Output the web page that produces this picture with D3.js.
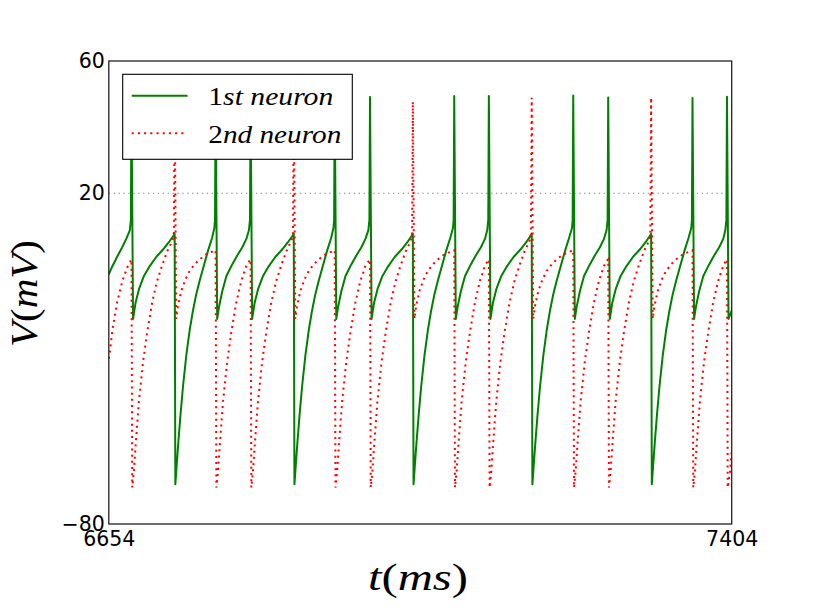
<!DOCTYPE html>
<html>
<head>
<meta charset="utf-8">
<script src="https://cdn.jsdelivr.net/npm/d3@7"></script>
<style>
  body { margin: 0; background: #ffffff; }
  svg { display: block; }
</style>
</head>
<body>
<div id="chart"></div>
<script>
// time axis (ms) and voltage axis (mV)
const xDomain = [6654, 7404];
const yDomain = [-80, 60];
const xTicks = [6654, 7404];
const yTicks = [60, 20, -80];
const refLevel = 20;

// [t (ms), V (mV)]
const neuron1 = [
    [6654,-4.5],[6658,-2.2],[6664,0.8],[6670,3.6],[6675,6.2],[6679.3,8.8],[6680.6,12],[6681.3,49],[6683.2,-18],
    [6686.3,-13],[6690.3,-9],[6696.3,-5],[6703.3,-2],[6711.3,0.8],[6719.3,3],[6726.3,5.2],[6732.3,7.3],[6733.3,7.8],[6734.1,-68],
    [6735.8,-62],[6737.8,-55],[6740.3,-47],[6743.3,-38.5],[6747.3,-29],[6751.3,-21.5],[6755.3,-15.5],[6759.3,-10.5],[6763.3,-6.5],[6768.3,-2],[6773.3,2.5],[6778.3,6.5],[6781.1,9.5],[6781.9,12],[6782.6,49],[6784.5,-18],
    [6786.6,-14.5],[6790.6,-9.6],[6795.6,-5],[6802.6,-1.5],[6808.6,1.2],[6814.6,3.6],[6819.6,6.2],[6822.7,8.8],[6824.0,12],[6824.7,49],[6826.6,-18],
    [6829.7,-13],[6833.7,-9],[6839.7,-5],[6846.7,-2],[6854.7,0.8],[6862.7,3],[6869.7,5.2],[6875.7,7.3],[6876.7,7.8],[6877.5,-68],
    [6879.2,-62],[6881.2,-55],[6883.7,-47],[6886.7,-38.5],[6890.7,-29],[6894.7,-21.5],[6898.7,-15.5],[6902.7,-10.5],[6906.7,-6.5],[6911.7,-2],[6916.7,2.5],[6921.7,6.5],[6924.5,9.5],[6925.3,12],[6926.0,49],[6927.9,-18],
    [6930,-14.5],[6934,-9.6],[6939,-5],[6946,-1.5],[6952,1.2],[6958,3.6],[6963,6.2],[6966.5,8.8],[6967.8,12],[6968.5,49.1],[6970.4,-18],
    [6973.5,-13],[6977.5,-9],[6983.5,-5],[6990.5,-2],[6998.5,0.8],[7006.5,3],[7013.5,5.2],[7019.1,7.3],[7020.1,7.8],[7020.9,-68],
    [7022.6,-62],[7024.6,-55],[7027.1,-47],[7030.1,-38.5],[7034.1,-29],[7038.1,-21.5],[7042.1,-15.5],[7046.1,-10.5],[7050.1,-6.5],[7055.1,-2],[7060.1,2.5],[7065.1,6.5],[7068.4,9.5],[7069.2,12],[7069.9,49.4],[7071.8,-18],
    [7073.9,-14.5],[7077.9,-9.6],[7082.9,-5],[7089.9,-1.5],[7095.9,1.2],[7101.9,3.6],[7106.9,6.2],[7109.6,8.8],[7110.9,12],[7111.6,49.4],[7113.5,-18],
    [7116.6,-13],[7120.6,-9],[7126.6,-5],[7133.6,-2],[7141.6,0.8],[7149.6,3],[7156.6,5.2],[7162.2,7.3],[7163.2,7.8],[7164,-68],
    [7165.7,-62],[7167.7,-55],[7170.2,-47],[7173.2,-38.5],[7177.2,-29],[7181.2,-21.5],[7185.2,-15.5],[7189.2,-10.5],[7193.2,-6.5],[7198.2,-2],[7203.2,2.5],[7208.2,6.5],[7211.7,9.5],[7212.5,12],[7213.2,49.6],[7215.1,-18],
    [7217.2,-14.5],[7221.2,-9.6],[7226.2,-5],[7233.2,-1.5],[7239.2,1.2],[7245.2,3.6],[7250.2,6.2],[7253.3,8.8],[7254.6,12],[7255.3,49],[7257.2,-18],
    [7260.3,-13],[7264.3,-9],[7270.3,-5],[7277.3,-2],[7285.3,0.8],[7293.3,3],[7300.3,5.2],[7306,7.3],[7307,7.8],[7307.8,-68],
    [7309.5,-62],[7311.5,-55],[7314,-47],[7317,-38.5],[7321,-29],[7325,-21.5],[7329,-15.5],[7333,-10.5],[7337,-6.5],[7342,-2],[7347,2.5],[7352,6.5],[7355.3,9.5],[7356.1,12],[7356.8,48.8],[7358.7,-18],
    [7360.8,-14.5],[7364.8,-9.6],[7369.8,-5],[7376.8,-1.5],[7382.8,1.2],[7388.8,3.6],[7393.8,6.2],[7396.3,8.8],[7397.6,12],[7398.3,49.2],[7400.2,-18],
    [7402.5,-16.5],[7404,-15.5]
];

const neuron2 = [
    [6654,-30],[6655.5,-27.5],[6658.5,-21],[6664.5,-12.4],[6670.5,-6.4],[6676,-2.5],[6680.3,-0.5],[6681.3,0],[6682.2,-69],
    [6684.2,-64],[6686.2,-56.5],[6690.2,-43],[6695.2,-31],[6700.2,-22],[6706.2,-13],[6712.2,-6.5],[6718.2,-1.8],[6724.2,2.4],[6729.2,5],[6732.3,6.8],[6733.3,48.5],[6735.1,-18],
    [6737.3,-14],[6741.3,-9.5],[6746.3,-6],[6751.3,-3.5],[6757.3,-1.5],[6763.3,0],[6771.3,1.5],[6781.6,2.7],[6782.6,2.8],[6783.5,-69],
    [6785.5,-64],[6787.5,-56.5],[6791.5,-43],[6796.5,-31],[6801.5,-22],[6807.5,-13],[6813.5,-6.5],[6819.5,-2],[6823.7,-0.3],[6824.7,0],[6825.6,-69],
    [6827.6,-64],[6829.6,-56.5],[6833.6,-43],[6838.6,-31],[6843.6,-22],[6849.6,-13],[6855.6,-6.5],[6861.6,-1.8],[6867.6,2.4],[6872.6,5],[6875.7,6.8],[6876.7,48.5],[6878.5,-18],
    [6880.7,-14],[6884.7,-9.5],[6889.7,-6],[6894.7,-3.5],[6900.7,-1.5],[6906.7,0],[6914.7,1.5],[6925,2.7],[6926,2.8],[6926.9,-69],
    [6928.9,-64],[6930.9,-56.5],[6934.9,-43],[6939.9,-31],[6944.9,-22],[6950.9,-13],[6956.9,-6.5],[6962.9,-2],[6967.5,-0.3],[6968.5,0],[6969.4,-69],
    [6971.4,-64],[6973.4,-56.5],[6977.4,-43],[6982.4,-31],[6987.4,-22],[6993.4,-13],[6999.4,-6.5],[7005.4,-1.8],[7011.4,2.4],[7016.4,5],[7019.1,6.8],[7020.1,47.7],[7021.9,-18],
    [7024.1,-14],[7028.1,-9.5],[7033.1,-6],[7038.1,-3.5],[7044.1,-1.5],[7050.1,0],[7058.1,1.5],[7068.9,2.7],[7069.9,2.8],[7070.8,-69],
    [7072.8,-64],[7074.8,-56.5],[7078.8,-43],[7083.8,-31],[7088.8,-22],[7094.8,-13],[7100.8,-6.5],[7106.8,-2],[7110.6,-0.3],[7111.6,0],[7112.5,-69],
    [7114.5,-64],[7116.5,-56.5],[7120.5,-43],[7125.5,-31],[7130.5,-22],[7136.5,-13],[7142.5,-6.5],[7148.5,-1.8],[7154.5,2.4],[7159.5,5],[7162.2,6.8],[7163.2,48.9],[7165,-18],
    [7167.2,-14],[7171.2,-9.5],[7176.2,-6],[7181.2,-3.5],[7187.2,-1.5],[7193.2,0],[7201.2,1.5],[7212.2,2.7],[7213.2,2.8],[7214.1,-69],
    [7216.1,-64],[7218.1,-56.5],[7222.1,-43],[7227.1,-31],[7232.1,-22],[7238.1,-13],[7244.1,-6.5],[7250.1,-2],[7254.3,-0.3],[7255.3,0],[7256.2,-69],
    [7258.2,-64],[7260.2,-56.5],[7264.2,-43],[7269.2,-31],[7274.2,-22],[7280.2,-13],[7286.2,-6.5],[7292.2,-1.8],[7298.2,2.4],[7303.2,5],[7306,6.8],[7307,48.9],[7308.8,-18],
    [7311,-14],[7315,-9.5],[7320,-6],[7325,-3.5],[7331,-1.5],[7337,0],[7345,1.5],[7355.8,2.7],[7356.8,2.8],[7357.7,-69],
    [7359.7,-64],[7361.7,-56.5],[7365.7,-43],[7370.7,-31],[7375.7,-22],[7381.7,-13],[7387.7,-6.5],[7393.7,-2],[7397.3,-0.3],[7398.3,0],[7399.2,-69],
    [7402.1,-64],[7404,-58]
];

const seriesNames = ["1st neuron", "2nd neuron"];

const width = 813;
const height = 613;
const plot = { left: 108.8, right: 731.7, top: 61, bottom: 524 };

const svg = d3.select("#chart")
    .append("svg")
    .attr("width", width)
    .attr("height", height);

svg.append("rect")
    .attr("width", width)
    .attr("height", height)
    .attr("fill", "#ffffff");

const x = d3.scaleLinear().domain(xDomain).range([plot.left, plot.right]);
const y = d3.scaleLinear().domain(yDomain).range([plot.bottom, plot.top]);

svg.append("clipPath")
    .attr("id", "plot-clip")
    .append("rect")
    .attr("x", plot.left)
    .attr("y", plot.top)
    .attr("width", plot.right - plot.left)
    .attr("height", plot.bottom - plot.top);

const g = svg.append("g").attr("clip-path", "url(#plot-clip)");

// reference line at 20 mV
g.append("line")
    .attr("x1", x(xDomain[0]))
    .attr("x2", x(xDomain[1]))
    .attr("y1", y(refLevel))
    .attr("y2", y(refLevel))
    .attr("stroke", "#808080")
    .attr("stroke-width", 1.1)
    .attr("stroke-dasharray", "1.3,3.6");

const line = d3.line()
    .x(d => x(d[0]))
    .y(d => y(d[1]));

g.append("path")
    .datum(neuron1)
    .attr("d", line)
    .attr("fill", "none")
    .attr("stroke", "#008000")
    .attr("stroke-width", 2)
    .attr("stroke-linejoin", "round");

g.append("path")
    .datum(neuron2)
    .attr("d", line)
    .attr("fill", "none")
    .attr("stroke", "#ff0000")
    .attr("stroke-width", 2)
    .attr("stroke-dasharray", "2,4.2");

// frame
svg.append("rect")
    .attr("x", plot.left)
    .attr("y", plot.top)
    .attr("width", plot.right - plot.left)
    .attr("height", plot.bottom - plot.top)
    .attr("fill", "none")
    .attr("stroke", "#222")
    .attr("stroke-width", 1.3);

const tickFont = "'DejaVu Sans', sans-serif";

const yAxis = svg.append("g")
    .attr("transform", `translate(${plot.left},0)`)
    .call(d3.axisLeft(y)
        .tickValues(yTicks)
        .tickSize(0)
        .tickPadding(4)
        .tickFormat(d => d < 0 ? "\u2212" + Math.abs(d) : String(d)));
yAxis.select(".domain").remove();
yAxis.selectAll("text")
    .style("font-family", tickFont)
    .style("font-size", "20.5px")
    .attr("fill", "#000");

const xAxis = svg.append("g")
    .attr("transform", `translate(0,${plot.bottom})`)
    .call(d3.axisBottom(x)
        .tickValues(xTicks)
        .tickSize(0)
        .tickPadding(7)
        .tickFormat(d3.format("d")));
xAxis.select(".domain").remove();
xAxis.selectAll("text")
    .style("font-family", tickFont)
    .style("font-size", "20.5px")
    .attr("fill", "#000");

// math-style labels: italic letters, upright digits and brackets
const mathFont = "'Liberation Serif', 'DejaVu Serif', serif";
function mathText(sel, parts) {
    parts.forEach(p => {
        sel.append("tspan")
            .style("font-style", /^[A-Za-z ]+$/.test(p) ? "italic" : "normal")
            .text(p);
    });
}

const xLabel = svg.append("text")
    .attr("x", 368)
    .attr("y", 590)
    .attr("textLength", 100)
    .attr("lengthAdjust", "spacingAndGlyphs")
    .style("font-family", mathFont)
    .style("font-size", "38px");
mathText(xLabel, ["t", "(", "ms", ")"]);

const yLabel = svg.append("text")
    .attr("transform", "translate(37,347) rotate(-90)")
    .attr("textLength", 107)
    .attr("lengthAdjust", "spacingAndGlyphs")
    .style("font-family", mathFont)
    .style("font-size", "38px");
mathText(yLabel, ["V", "(", "mV", ")"]);

// legend
const legend = svg.append("g");
legend.append("rect")
    .attr("x", 122.7)
    .attr("y", 74.3)
    .attr("width", 229.6)
    .attr("height", 85)
    .attr("fill", "#ffffff")
    .attr("stroke", "#000")
    .attr("stroke-width", 1.1);

const legendRows = [
    { y: 95.7, base: 105, stroke: "#008000", dash: null, label: ["1", "st neuron"], len: 125 },
    { y: 133.3, base: 142.7, stroke: "#ff0000", dash: "2,4.2", label: ["2", "nd neuron"], len: 133 }
];

legendRows.forEach((r, i) => {
    legend.append("line")
        .attr("x1", 131.7)
        .attr("x2", 187.5)
        .attr("y1", r.y)
        .attr("y2", r.y)
        .attr("stroke", r.stroke)
        .attr("stroke-width", 2)
        .attr("stroke-dasharray", r.dash);
    const t = legend.append("text")
        .attr("x", 208.3)
        .attr("y", r.base)
        .attr("textLength", r.len)
        .attr("lengthAdjust", "spacingAndGlyphs")
        .attr("data-series", seriesNames[i])
        .style("font-family", mathFont)
        .style("font-size", "26px");
    mathText(t, r.label);
});
</script>
</body>
</html>
